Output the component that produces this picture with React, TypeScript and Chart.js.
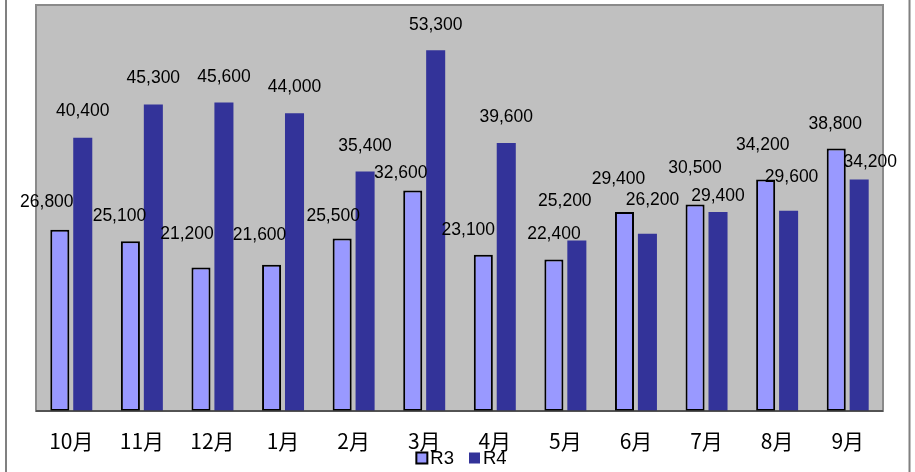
import React, { useEffect, useRef } from "react";
import { Chart, registerables } from "chart.js";

Chart.register(...registerables);

const categories = ["10月", "11月", "12月", "1月", "2月", "3月", "4月", "5月", "6月", "7月", "8月", "9月"];
const r3Values = [26800, 25100, 21200, 21600, 25500, 32600, 23100, 22400, 29400, 30500, 34200, 38800];
const r4Values = [40400, 45300, 45600, 44000, 35400, 53300, 39600, 25200, 26200, 29400, 29600, 34200];

// label nudges (dx, dy in px relative to the bar's top centre) — styling only
const r3LabelDx = [-13, -11, -14, -12, -9, -12, -15, 0, -6, 0, -3, -1];
const r3LabelDy = [-27, -25, -33, -30, -22, -17, -25, -25, -33, -36, -34, -24];
const r4LabelDx = [0, 0, 0, 0, 0, 0, 0, -12, 5, 0, 3, 11];
const r4LabelDy = [-26, -26, -25, -26, -25, -25, -26, -39, -34, -16, -34, -17];

const R3_COLOR = "#9999FF";
const R4_COLOR = "#333399";

const fmt = (v: number) => v.toLocaleString("en-US");

const framePlugin = {
  id: "frame",
  beforeDraw(chart: any) {
    const { ctx, chartArea, width, height } = chart;
    ctx.save();
    ctx.fillStyle = "#ffffff";
    ctx.fillRect(0, 0, width, height);
    // outer chart border (vertical edges visible)
    ctx.strokeStyle = "#808080";
    ctx.lineWidth = 2;
    ctx.beginPath();
    ctx.moveTo(6, 0);
    ctx.lineTo(6, height);
    ctx.moveTo(909.5, 0);
    ctx.lineTo(909.5, height);
    ctx.stroke();
    // plot area
    const { left, top, right, bottom } = chartArea;
    ctx.fillStyle = "#C0C0C0";
    ctx.fillRect(left, top, right - left, bottom - top);
    ctx.strokeStyle = "#8a8a8a";
    ctx.lineWidth = 2;
    ctx.strokeRect(left, top, right - left, bottom - top);
    ctx.restore();
  },
  afterDatasetsDraw(chart: any) {
    const { ctx, chartArea } = chart;
    ctx.save();
    ctx.strokeStyle = "#404040";
    ctx.lineWidth = 1.5;
    ctx.beginPath();
    ctx.moveTo(chartArea.left, chartArea.bottom);
    ctx.lineTo(chartArea.right, chartArea.bottom);
    ctx.stroke();
    ctx.restore();
  },
};

const labelPlugin = {
  id: "valueLabels",
  afterDatasetsDraw(chart: any) {
    const { ctx } = chart;
    ctx.save();
    ctx.font = "17.5px 'Liberation Sans', Arial, sans-serif";
    ctx.fillStyle = "#000";
    ctx.textAlign = "center";
    ctx.textBaseline = "middle";
    const nudges = [
      [r3LabelDx, r3LabelDy],
      [r4LabelDx, r4LabelDy],
    ];
    chart.data.datasets.forEach((ds: any, di: number) => {
      const meta = chart.getDatasetMeta(di);
      meta.data.forEach((el: any, i: number) => {
        const [dxs, dys] = nudges[di];
        ctx.fillText(fmt(ds.data[i]), el.x + dxs[i], el.y + dys[i]);
      });
    });
    ctx.restore();
  },
};

const legendPlugin = {
  id: "customLegend",
  afterDraw(chart: any) {
    const { ctx, width } = chart;
    ctx.save();
    ctx.font = "18.5px 'Liberation Sans', Arial, sans-serif";
    ctx.textBaseline = "middle";
    ctx.textAlign = "left";
    const items = [
      { text: "R3", fill: R3_COLOR, stroke: "#000" },
      { text: "R4", fill: R4_COLOR, stroke: null },
    ];
    const box = 11;
    const gapBoxText = 3;
    const gapItems = 15;
    let total = 0;
    items.forEach((it, i) => {
      total += box + gapBoxText + ctx.measureText(it.text).width + (i < items.length - 1 ? gapItems : 0);
    });
    let x = width / 2 + 4 - total / 2;
    const cy = 458;
    items.forEach((it) => {
      ctx.fillStyle = it.fill;
      ctx.fillRect(x, cy - box / 2, box, box);
      if (it.stroke) {
        ctx.strokeStyle = it.stroke;
        ctx.lineWidth = 2;
        ctx.strokeRect(x, cy - box / 2, box, box);
      }
      ctx.fillStyle = "#000";
      ctx.fillText(it.text, x + box + gapBoxText, cy + 1);
      x += box + gapBoxText + ctx.measureText(it.text).width + gapItems;
    });
    ctx.restore();
  },
};

export default function App() {
  const canvasRef = useRef<HTMLCanvasElement | null>(null);

  useEffect(() => {
    if (!canvasRef.current) return;
    const chart = new Chart(canvasRef.current, {
      type: "bar",
      data: {
        labels: categories,
        datasets: [
          {
            label: "R3",
            data: r3Values,
            backgroundColor: R3_COLOR,
            borderColor: "#000000",
            borderWidth: 2,
            borderSkipped: false,
            categoryPercentage: 0.65,
            barPercentage: 0.83,
          },
          {
            label: "R4",
            data: r4Values,
            backgroundColor: R4_COLOR,
            borderWidth: 0,
            categoryPercentage: 0.65,
            barPercentage: 0.83,
          },
        ],
      },
      options: {
        responsive: false,
        maintainAspectRatio: false,
        animation: false,
        layout: { padding: { left: 36, right: 32, top: 5, bottom: 0 } },
        scales: {
          x: {
            grid: { display: false },
            border: { display: false },
            ticks: {
              color: "#000",
              font: { family: "'Noto Sans CJK JP', sans-serif", size: 21 },
              padding: 9,
              maxRotation: 0,
            },
            afterFit: (scale: any) => {
              scale.height = 61;
            },
          },
          y: { display: false, min: 0, max: 60000 },
        },
        plugins: {
          legend: { display: false },
          tooltip: { enabled: false },
        },
      },
      plugins: [framePlugin, labelPlugin, legendPlugin],
    });
    return () => chart.destroy();
  }, []);

  return (
    <div style={{ position: "fixed", left: 0, top: 0, width: 915, height: 472, background: "#fff" }}>
      <canvas ref={canvasRef} width={915} height={472} style={{ display: "block" }} />
    </div>
  );
}
